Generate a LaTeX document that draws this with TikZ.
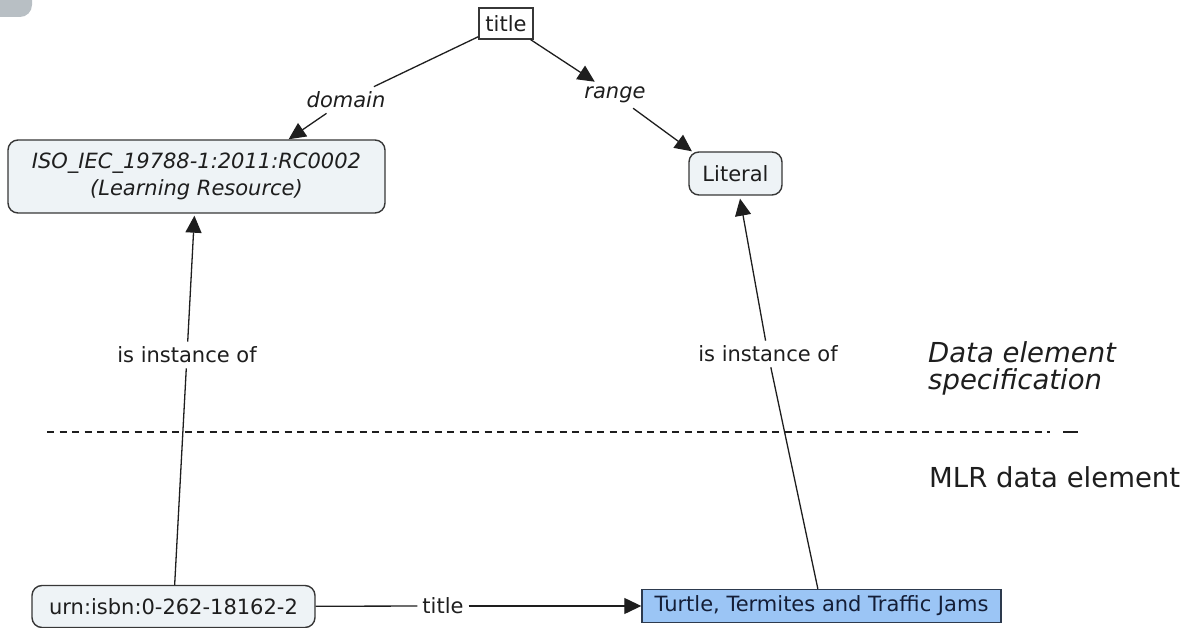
\documentclass[tikz,border=0pt]{standalone}
\usepackage{fontspec}
\setmainfont{DejaVu Sans}
\usetikzlibrary{arrows.meta}
\definecolor{boxfill}{RGB}{238,243,246}
\definecolor{boxline}{RGB}{55,55,55}
\definecolor{turtlefill}{RGB}{155,197,245}
\definecolor{turtleline}{RGB}{45,58,78}
\definecolor{txt}{RGB}{30,30,30}
\definecolor{cornergray}{RGB}{184,191,196}
\begin{document}
\begin{tikzpicture}[x=1pt,y=-1pt,
  base/.style={inner sep=0pt, text=txt, font=\fontsize{21}{27}\selectfont, align=center},
  concept/.style={base, draw=boxline, fill=boxfill, rounded corners=10pt, line width=1.4pt},
  plainbox/.style={base, draw=boxline, fill=white, line width=1.4pt},
  valuebox/.style={base, draw=turtleline, fill=turtlefill, line width=1.4pt, text={rgb,255:red,20;green,30;blue,55}},
  lbl/.style={base, fill=white, inner xsep=5pt, inner ysep=5pt},
  side/.style={inner sep=0pt, text=txt, font=\fontsize{27.5}{32}\selectfont, anchor=base west},
  conn/.style={draw=txt, line width=1.3pt},
  tip/.style={-{Triangle[length=17pt,width=16pt]}},
  sep/.style={draw=txt, line width=1.5pt, dash pattern=on 7pt off 5.5pt}
]
\useasboundingbox (0,0) rectangle (1186,628);
% grey corner fragment
\fill[cornergray, rounded corners=12pt] (-30,-30) rectangle (32,17);

% nodes
\node[plainbox, minimum width=54pt, minimum height=31pt] (title) at (506,23.5) {title};
\node[concept, minimum width=377pt, minimum height=73pt] (iso) at (196.5,176.5)
  {\itshape ISO\_IEC\_19788-1:2011:RC0002\\\itshape (Learning Resource)};
\node[concept, minimum width=93pt, minimum height=43pt] (lit) at (735.5,173.5) {Literal};
\node[concept, minimum width=283pt, minimum height=42pt] (urn) at (173.5,606.5) {urn:isbn:0-262-18162-2};
\node[valuebox, minimum width=359pt, minimum height=33pt] (turtle) at (821.5,606) {Turtle, Termites and Traffic Jams};

% linking phrases
\node[lbl, font=\fontsize{21}{27}\selectfont\itshape] (dom) at (346,100) {domain};
\node[lbl, font=\fontsize{21}{27}\selectfont\itshape] (rng) at (615,95) {range};
\node[lbl] (inst1) at (187,355) {is instance of};
\node[lbl] (inst2) at (768,354) {is instance of};
\node[lbl] (t3) at (443,606) {title};

% connectors
\draw[conn] (title) -- (dom);
\draw[conn, tip] (dom) -- (iso.22.4);
\draw[conn, tip] (title) -- (rng);
\draw[conn, tip] (rng) -- (lit.153);
\draw[conn] (urn) -- (inst1);
\draw[conn, tip, shorten >=2pt] (inst1) -- (iso);
\draw[conn] (turtle) -- (inst2);
\draw[conn, tip, shorten >=3pt] (inst2) -- (lit);
\draw[conn] (urn) -- (t3);
\draw[conn, tip] (t3) -- (turtle);

% separator and side captions
\coordinate (sepA) at (47,432);
\coordinate (sepB) at (1050,432);
\coordinate (sepC) at (1063,432);
\coordinate (sepD) at (1078,432);
\draw[sep] (sepA) -- (sepB);
\draw[draw=txt, line width=1.5pt] (sepC) -- (sepD);
\node[side, font=\fontsize{27.5}{32}\selectfont\itshape] (spec1) at (928,362) {Data element};
\node[side, font=\fontsize{27.5}{32}\selectfont\itshape] (spec2) at (928,389) {specification};
\node[side] (mlr) at (929,487) {MLR data element};
\end{tikzpicture}
\end{document}
